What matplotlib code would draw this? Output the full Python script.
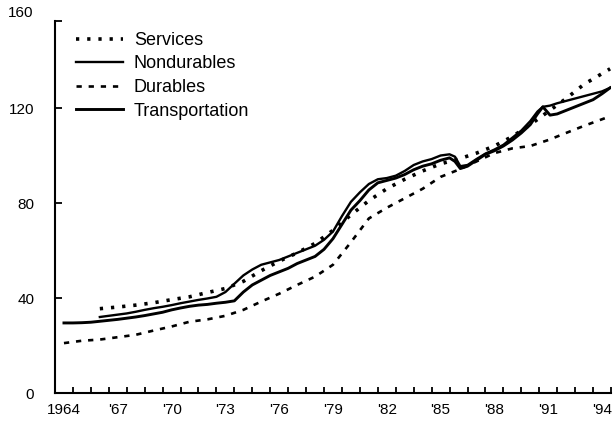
import matplotlib
matplotlib.use("Agg")
import matplotlib.pyplot as plt

plt.rcParams['font.family'] = ['Liberation Sans', 'DejaVu Sans']

# Consumer price indexes, 1964-1994
yrs_serv = [1966.5, 1967.5, 1968.5, 1969.5, 1970.5, 1971.5, 1972.5, 1973.5, 1974.5,
            1975.5, 1976.5, 1977.5, 1978.5, 1979.5, 1980.5, 1981.5, 1982.5, 1983.5, 1984.5,
            1985.5, 1986.5, 1987.5, 1988.5, 1989.5, 1990.5, 1991.5, 1992.5, 1993.5, 1994.95]
services = [35.5, 36.2, 37.0, 38.0, 39.3, 40.5, 42.3, 44.0, 47.0,
            51.5, 55.5, 59.0, 63.0, 68.5, 75.0, 81.0, 86.0, 90.0, 93.5,
            96.5, 98.5, 101.0, 104.0, 108.0, 113.0, 118.5, 124.0, 130.0, 136.5]

yrs_dur = [1964.5, 1965.5, 1966.5, 1967.5, 1968.5, 1969.5, 1970.5, 1971.5, 1972.5, 1973.5,
           1974.5, 1975.5, 1976.5, 1977.5, 1978.5, 1979.5, 1980.5, 1981.5, 1982.5, 1983.5,
           1984.5, 1985.5, 1986.5, 1987.5, 1988.5, 1989.5, 1990.5, 1991.5, 1992.5, 1993.5, 1994.95]
durables = [21.0, 22.0, 22.5, 23.5, 24.5, 26.3, 28.0, 30.0, 31.0, 32.5,
            35.0, 38.5, 41.8, 45.5, 49.0, 54.0, 63.5, 73.5, 78.0, 82.0,
            86.0, 91.0, 94.0, 97.5, 101.0, 103.0, 104.0, 106.5, 109.5, 112.5, 116.5]

yrs_nond = [1966.5, 1967, 1967.5, 1968, 1968.5, 1969, 1969.5, 1970, 1970.5,
            1971, 1971.5, 1972, 1972.5, 1973, 1973.5, 1974, 1974.5, 1975, 1975.5,
            1976, 1976.5, 1977, 1977.5, 1978, 1978.5, 1979, 1979.5, 1980, 1980.5,
            1981, 1981.5, 1982, 1982.5, 1983, 1983.5, 1984, 1984.5, 1985, 1985.5,
            1986, 1986.3, 1986.6, 1987, 1987.5, 1988, 1988.5, 1989, 1989.5, 1990,
            1990.5, 1990.9, 1991.2, 1991.6, 1992, 1992.5, 1993, 1993.5, 1994, 1994.5, 1994.95]
nondurables = [32.0, 32.5, 33.0, 33.5, 34.2, 35.0, 35.7, 36.3, 37.0,
               37.8, 38.5, 39.2, 39.8, 40.5, 42.5, 46.0, 49.5, 52.0, 54.0,
               55.0, 56.0, 57.5, 59.0, 60.5, 62.0, 64.5, 68.0, 74.5, 80.5,
               84.5, 88.0, 90.0, 90.5, 91.5, 93.5, 96.0, 97.5, 98.5, 100.0,
               100.5, 99.5, 95.5, 96.0, 98.5, 100.8, 102.5, 104.5, 107.5, 110.5,
               114.5, 118.5, 120.5, 121.0, 122.0, 123.0, 124.0, 125.0, 126.0, 127.0, 128.5]

yrs_trans = [1964.5, 1965, 1965.5, 1966, 1966.5, 1967, 1967.5, 1968, 1968.5, 1969,
             1969.5, 1970, 1970.5, 1971, 1971.5, 1972, 1972.5, 1973, 1973.5, 1974,
             1974.5, 1975, 1975.5, 1976, 1976.5, 1977, 1977.5, 1978, 1978.5, 1979,
             1979.5, 1980, 1980.5, 1981, 1981.5, 1982, 1982.5, 1983, 1983.5, 1984,
             1984.5, 1985, 1985.5, 1986, 1986.3, 1986.6, 1987, 1987.5, 1988, 1988.5,
             1989, 1989.5, 1990, 1990.5, 1990.9, 1991.2, 1991.6, 1992, 1992.5, 1993,
             1993.5, 1994, 1994.5, 1994.95]
transportation = [29.5, 29.5, 29.6, 29.8, 30.2, 30.6, 31.0, 31.5, 32.0, 32.6,
                  33.3, 34.0, 35.0, 35.8, 36.5, 37.0, 37.3, 37.8, 38.2, 38.8,
                  42.5, 45.5, 47.5, 49.5, 51.0, 52.5, 54.5, 56.0, 57.5, 60.5,
                  65.0, 71.0, 77.0, 81.0, 85.5, 88.5, 89.5, 90.5, 92.0, 94.0,
                  95.5, 96.5, 98.0, 99.0, 97.5, 94.5, 95.5, 98.0, 100.5, 102.0,
                  104.0, 106.5, 109.5, 113.0, 117.5, 120.5, 117.0, 117.5, 119.0, 120.5,
                  122.0, 123.5, 126.0, 128.5]

label_years = [1964, 1967, 1970, 1973, 1976, 1979, 1982, 1985, 1988, 1991, 1994]
label_text = ['1964', "'67", "'70", "'73", "'76", "'79", "'82", "'85", "'88", "'91", "'94"]

fig = plt.figure(figsize=(6.15, 4.23), dpi=100)
ax = fig.add_axes([55/615, 1-393/423, 556/615, 380/423])

ax.plot(yrs_serv, services, color='black', lw=2.6, linestyle=(0, (0.9, 2.2)),
        dash_capstyle='butt', label='Services')
ax.plot(yrs_nond, nondurables, color='black', lw=1.7, label='Nondurables')
ax.plot(yrs_dur, durables, color='black', lw=1.9, linestyle=(0, (2.0, 2.6)),
        dash_capstyle='butt', label='Durables')
ax.plot(yrs_trans, transportation, color='black', lw=2.1, label='Transportation')

ax.set_xlim(1964, 1995)
ax.set_ylim(0, 160)

ax.spines['top'].set_visible(False)
ax.spines['right'].set_visible(False)
ax.spines['left'].set_linewidth(1.5)
ax.spines['bottom'].set_linewidth(1.5)
ax.spines['left'].set_bounds(0, 156.5)

# year boundary ticks, labels centred in the year
ax.set_xticks(range(1965, 1996))
ax.set_xticklabels([])
ax.tick_params(axis='x', which='major', direction='in', length=4, width=1.3)
ax.set_xticks([y + 0.5 for y in label_years], minor=True)
ax.set_xticklabels(label_text, minor=True)
ax.tick_params(axis='x', which='minor', length=0, pad=7, labelsize=11)

ax.set_yticks([0, 40, 80, 120, 156.5])
ax.set_yticklabels(['0', '40', '80', '120', ''])
ax.tick_params(axis='y', direction='in', length=5, width=1.3, pad=15, labelsize=11)
ax.text(-0.038, 160, '160', transform=ax.get_yaxis_transform(),
        ha='right', va='center', fontsize=11)

ax.legend(loc='upper left', bbox_to_anchor=(76/615, 1-32/423),
          bbox_transform=fig.transFigure, frameon=False, fontsize=13,
          handlelength=2.6, handletextpad=0.6, labelspacing=0.36,
          borderpad=0, borderaxespad=0)

fig.savefig('out.png', dpi=100)
